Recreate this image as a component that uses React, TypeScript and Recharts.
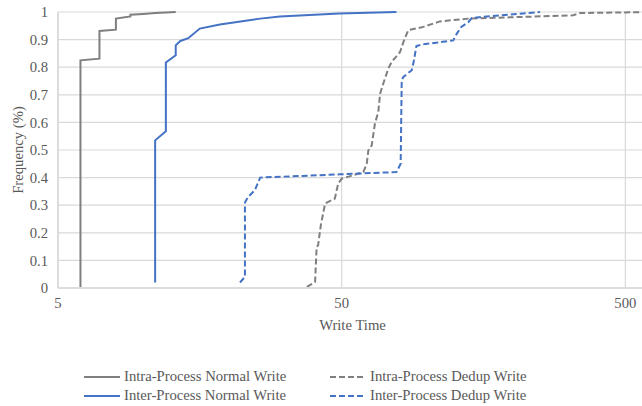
import { LineChart, Line, XAxis, YAxis, CartesianGrid, Legend } from "recharts";

const GRAY = "#7f7f7f";
const BLUE = "#4472c4";
const TEXT = "#595959";
const GRID = "#d9d9d9";
const FONT = "Liberation Serif, DejaVu Serif, serif";

// write time (log axis) vs cumulative frequency
const intraNormalTime = [6, 6, 7, 7, 8, 8, 9, 9, 10, 11, 12, 13];
const intraNormalFreq = [0.004, 0.825, 0.831, 0.931, 0.936, 0.976, 0.984, 0.99, 0.993, 0.996, 0.998, 1];

const interNormalTime = [11, 11, 12, 12, 13, 13, 13.5, 14.4, 15.8, 18.6, 25.8, 30.3, 49, 78];
const interNormalFreq = [0.02, 0.535, 0.568, 0.817, 0.843, 0.879, 0.895, 0.905, 0.94, 0.955, 0.976, 0.984, 0.995, 1];

const intraDedupTime = [
  37.7, 40.3, 40.8, 41.3, 42.2, 43.7, 47.3, 48.6, 50, 59.6, 61.3, 62.1, 63.8, 65.5, 67.3, 68.3, 70.1, 73, 75,
  80.3, 82.5, 85.8, 97, 111, 140, 327, 346, 596,
];
const intraDedupFreq = [
  0.004, 0.022, 0.149, 0.155, 0.227, 0.306, 0.324, 0.378, 0.396, 0.42, 0.451, 0.499, 0.517, 0.596, 0.638, 0.704,
  0.741, 0.795, 0.819, 0.855, 0.891, 0.934, 0.946, 0.966, 0.976, 0.988, 0.996, 1,
];

const interDedupTime = [
  21.9, 22.8, 22.8, 23.4, 24.7, 25.8, 49.3, 78, 80.7, 81.4, 82.5, 88.3, 89.9, 91.7, 95.7, 123.7, 127, 132, 140,
  143.6, 162, 250,
];
const interDedupFreq = [
  0.02, 0.04, 0.31, 0.33, 0.354, 0.4, 0.412, 0.42, 0.45, 0.752, 0.765, 0.789, 0.825, 0.877, 0.882, 0.897, 0.92,
  0.946, 0.964, 0.978, 0.984, 1,
];

const xTicks = [5, 50, 500];
const yTicks = [0, 0.1, 0.2, 0.3, 0.4, 0.5, 0.6, 0.7, 0.8, 0.9, 1];

const zip = (xs: number[], ys: number[]) => xs.map((x, i) => ({ x, y: ys[i] }));

const series = [
  { name: "Intra-Process Normal Write", data: zip(intraNormalTime, intraNormalFreq), color: GRAY, dash: undefined },
  { name: "Inter-Process Normal Write", data: zip(interNormalTime, interNormalFreq), color: BLUE, dash: undefined },
  { name: "Intra-Process Dedup Write", data: zip(intraDedupTime, intraDedupFreq), color: GRAY, dash: "6 3" },
  { name: "Inter-Process Dedup Write", data: zip(interDedupTime, interDedupFreq), color: BLUE, dash: "6 3" },
];

const textStyle = { fill: TEXT, fontSize: 14.7, fontFamily: FONT };

const renderLegend = () => (
  <div
    style={{
      display: "grid",
      gridTemplateColumns: "246px 260px",
      gridTemplateRows: "19px 19px",
      gridAutoFlow: "column",
      paddingLeft: 84,
      fontSize: 14.7,
      color: TEXT,
      fontFamily: FONT,
    }}
  >
    {series.map((s) => (
      <div key={s.name} style={{ display: "flex", alignItems: "center", height: 19, whiteSpace: "nowrap" }}>
        <svg width={36} height={4}>
          <line x1={0} y1={2} x2={36} y2={2} stroke={s.color} strokeWidth={2} strokeDasharray={s.dash} />
        </svg>
        <span style={{ marginLeft: 4, fontFamily: FONT }}>{s.name}</span>
      </div>
    ))}
  </div>
);

const YLabel = (props: any) => {
  const { viewBox } = props;
  const cx = viewBox.x + 18;
  const cy = viewBox.y + viewBox.height / 2;
  return (
    <text
      x={0}
      y={0}
      transform={`translate(${cx}, ${cy}) rotate(-90)`}
      textAnchor="middle"
      dominantBaseline="central"
      fill={TEXT}
      fontSize={14.7}
      fontFamily={FONT}
    >
      Frequency (%)
    </text>
  );
};

export default function App() {
  return (
    <div
      style={{
        position: "absolute",
        left: 0,
        top: 0,
        width: 642,
        height: 406,
        overflow: "hidden",
        background: "#fff",
        fontFamily: FONT,
      }}
    >
      <LineChart
        width={647}
        height={406}
        margin={{ top: 12, right: 0, left: 0, bottom: 71 }}
        style={{ fontFamily: FONT }}
      >
        <CartesianGrid stroke={GRID} strokeWidth={1.2} />
        <XAxis
          dataKey="x"
          type="number"
          scale="log"
          domain={[5, 596]}
          allowDataOverflow
          ticks={xTicks}
          height={47}
          tickLine={false}
          tickMargin={4}
          axisLine={{ stroke: GRID, strokeWidth: 1.5 }}
          tick={textStyle}
          label={{ value: "Write Time", position: "insideBottom", offset: 5, ...textStyle }}
        />
        <YAxis
          dataKey="y"
          type="number"
          domain={[0, 1]}
          ticks={yTicks}
          width={58}
          tickLine={false}
          tickMargin={4}
          axisLine={{ stroke: GRID, strokeWidth: 1.5 }}
          tick={textStyle}
          label={<YLabel />}
        />
        <Legend
          layout="horizontal"
          verticalAlign="middle"
          align="center"
          content={renderLegend}
          wrapperStyle={{ top: 367, left: 0, width: 642, height: 38 }}
        />
        {series.map((s) => (
          <Line
            key={s.name}
            name={s.name}
            data={s.data}
            dataKey="y"
            type="linear"
            stroke={s.color}
            strokeWidth={2}
            strokeDasharray={s.dash}
            dot={false}
            activeDot={false}
            isAnimationActive={false}
          />
        ))}
      </LineChart>
    </div>
  );
}
